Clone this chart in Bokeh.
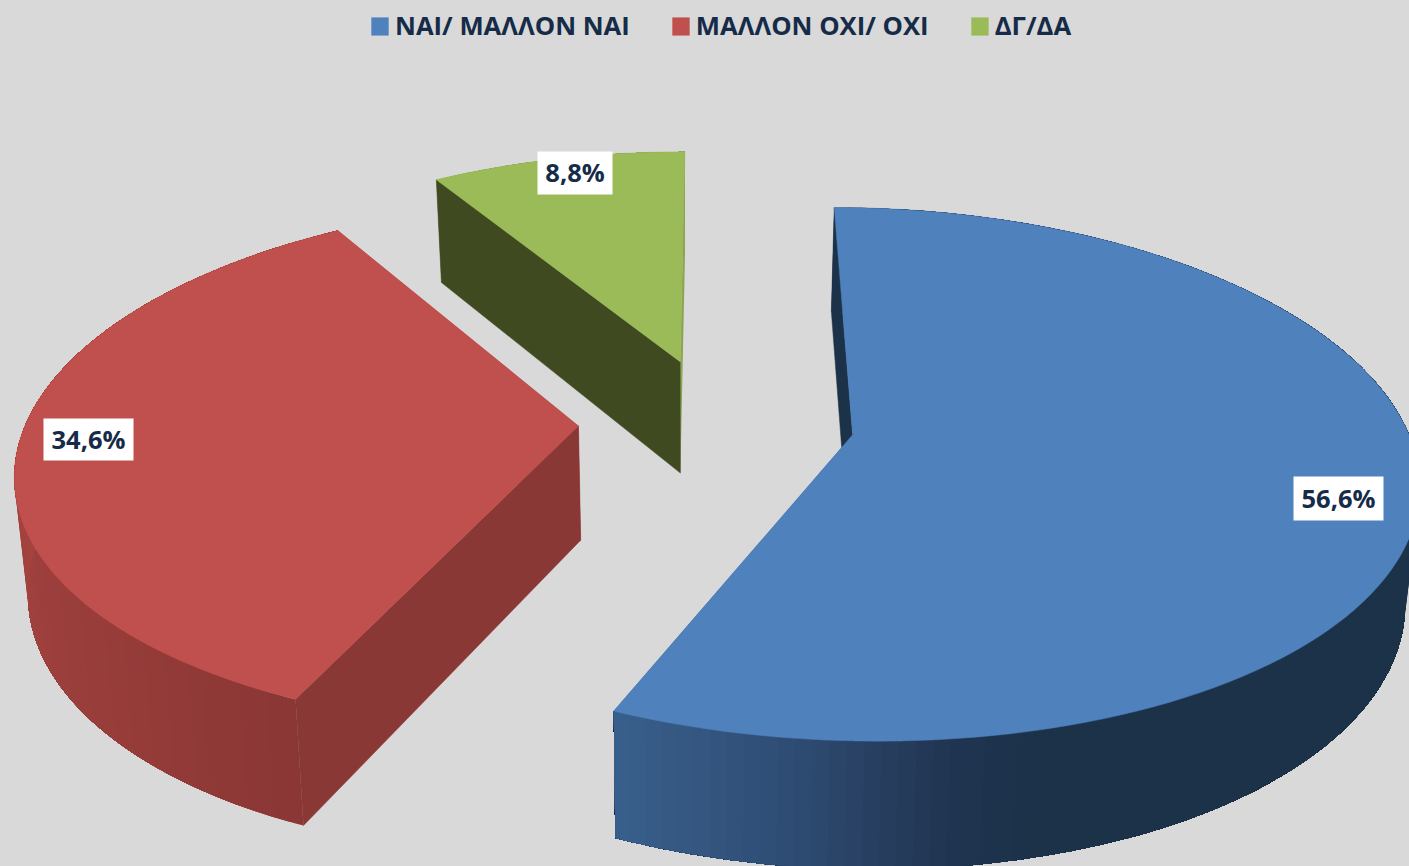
import math
from bokeh.plotting import figure
from bokeh.models import Legend, LegendItem, InlineStyleSheet
from bokeh.core.properties import value
from bokeh.embed import file_html
from bokeh.resources import INLINE

categories = ["ΝΑΙ/ ΜΑΛΛΟΝ ΝΑΙ", "ΜΑΛΛΟΝ ΟΧΙ/ ΟΧΙ", "ΔΓ/ΔΑ"]
shares = [56.6, 34.6, 8.8]
share_labels = ["56,6%", "34,6%", "8,8%"]

top_colors = ["#4f81bd", "#c0504d", "#9bbb59"]
cut_colors = ["#1c3249", "#8a3836", "#3f4a20"]
end_colors = ["#39608d", "#a8453f", "#8aa650"]
# side wall shade stops: (angle in degrees, colour)
wall_stops = [
    [(0, "#1c3249"), (165, "#1c3249"), (173, "#1e3450"), (180, "#273f60"), (188, "#2f4d74"), (204, "#39608d")],
    [(204, "#8a3735"), (225, "#963c39"), (250, "#a0413e"), (280, "#a8453f"), (330, "#a8453f")],
    [(328, "#8aa650"), (360, "#8aa650")],
]
label_centers = [(1338, 498), (88, 439), (574.5, 172.5)]
label_sizes = [(90, 44), (90, 42), (75, 43)]

BG = "#d9d9d9"
INK = "#152b47"
FONT = "Open Sans"

# pie projection
CX, CY, SX, SY, K, KX = 716.0, 421.0, 552.0, 257.0, 0.147, 0.155
EXPLODE = 0.25
DEPTH = 114.0
VPX, SHRINK = 690.0, 0.98


def project(X, Y):
    w = 1 + K * Y
    return CX + SX * X / (1 + KX * Y), CY - SY * Y / w, w


def lowered(pt):
    x, y, w = pt
    return VPX + (x - VPX) * SHRINK, y + DEPTH / w ** 0.7


def rim(deg, ox, oy):
    t = math.radians(deg)
    return project(ox + math.sin(t), oy + math.cos(t))


def hex2rgb(c):
    return [int(c[i:i + 2], 16) for i in (1, 3, 5)]


def shade(stops, deg):
    for (a0, c0), (a1, c1) in zip(stops, stops[1:]):
        if a0 <= deg <= a1:
            f = (deg - a0) / (a1 - a0)
            a, b = hex2rgb(c0), hex2rgb(c1)
            return "#%02x%02x%02x" % tuple(round(u + (v - u) * f) for u, v in zip(a, b))
    return stops[-1][1]


p = figure(width=1409, height=866, x_range=(0, 1409), y_range=(866, 0),
           output_backend="svg", toolbar_location=None, min_border=0,
           background_fill_color=BG, border_fill_color=BG, outline_line_color=None,
           stylesheets=[InlineStyleSheet(css=":host{position:absolute !important;left:0;top:0;background:#d9d9d9}")])
p.axis.visible = False
p.grid.visible = False

total = sum(shares)
start = 0.0
wedges = []
for i, s in enumerate(shares):
    sweep = 360.0 * s / total
    wedges.append((i, start, sweep))
    start += sweep

tops = {}
for i, a0, sweep in reversed(wedges):
    mid = math.radians(a0 + sweep / 2)
    ox, oy = EXPLODE * math.sin(mid), EXPLODE * math.cos(mid)
    apex = project(ox, oy)
    la = lowered(apex)

    # cut face at the end of the slice, behind the outer wall
    t1 = rim(a0 + sweep, ox, oy)
    l1 = lowered(t1)
    p.patch([apex[0], t1[0], l1[0], la[0]], [apex[1], t1[1], l1[1], la[1]],
            fill_color=end_colors[i], line_color=None)

    # outer wall: overlapping shaded bands, each running on to the slice's end, so no seams show
    n = max(4, int(sweep / 1.5))
    angs = [a0 + sweep * j / n for j in range(n + 1)]
    fine = [a0 + sweep * j / 150 for j in range(151)]
    xs, ys, cs = [], [], []
    for j in range(n):
        arc = [angs[j]] + [a for a in fine if a > angs[j]]
        tp = [rim(a, ox, oy) for a in arc]
        lw = [lowered(q) for q in tp]
        xs.append([q[0] for q in tp] + [q[0] for q in reversed(lw)])
        ys.append([q[1] for q in tp] + [q[1] for q in reversed(lw)])
        cs.append(shade(wall_stops[i], (angs[j] + angs[j + 1]) / 2))
    p.patches(xs, ys, fill_color=cs, line_color=None)

    # cut face at the start of the slice
    t0 = rim(a0, ox, oy)
    l0 = lowered(t0)
    p.patch([apex[0], t0[0], l0[0], la[0]], [apex[1], t0[1], l0[1], la[1]],
            fill_color=cut_colors[i], line_color=cut_colors[i], line_width=0.5)

    # top face
    pts = [rim(a, ox, oy) for a in [a0 + sweep * j / 120 for j in range(121)]]
    tops[i] = p.patch([apex[0]] + [q[0] for q in pts], [apex[1]] + [q[1] for q in pts],
                      fill_color=top_colors[i], line_color=top_colors[i], line_width=0.5)

p.rect([c[0] for c in label_centers], [c[1] for c in label_centers],
       width=[z[0] for z in label_sizes], height=[z[1] for z in label_sizes],
       fill_color="white", line_color=None)
p.text([c[0] for c in label_centers], [c[1] - 1 for c in label_centers], text=share_labels,
       text_font=value(FONT), text_font_size="25.5px", text_font_style="bold",
       text_color=INK, text_align="center", text_baseline="middle")

legend = Legend(items=[LegendItem(label=c, renderers=[tops[i]]) for i, c in enumerate(categories)],
                orientation="horizontal", location=(369, 866 - 43), padding=0, margin=0,
                spacing=40, label_standoff=5, glyph_width=21, glyph_height=22,
                label_text_font=FONT, label_text_font_size="25.7px", label_text_font_style="bold",
                label_text_color=INK, background_fill_alpha=0, border_line_color=None)
p.add_layout(legend, "center")

open("out.html", "w").write(file_html(p, INLINE))
